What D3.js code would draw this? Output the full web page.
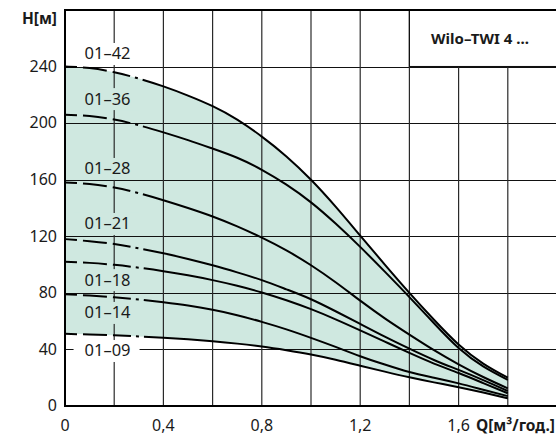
<!DOCTYPE html>
<html>
<head>
<meta charset="utf-8">
<script src="https://cdn.jsdelivr.net/npm/d3@7/dist/d3.min.js"></script>
<style>
  html, body { margin: 0; padding: 0; background: #fff; }
  svg { display: block; }
  text { font-family: "Noto Sans", "Open Sans", sans-serif; fill: #1a1a1a; }
</style>
</head>
<body>
<svg id="chart" width="556" height="438"></svg>
<script>
// ---- data ----
const flowQ = [0, 0.1, 0.2, 0.3, 0.4, 0.5, 0.6, 0.7, 0.8, 0.9, 1.0, 1.1, 1.2, 1.3, 1.4, 1.5, 1.6, 1.7, 1.8];
const head_01_42 = [240, 239, 236, 231.5, 226, 219.5, 212, 202.5, 190.5, 176.5, 160, 141, 120.5, 100, 80, 61, 43.5, 30, 20];
const head_01_36 = [206, 205, 202.5, 198.5, 193.5, 188, 182, 175.5, 167, 156.5, 144, 129, 112.5, 95, 77, 58.5, 41, 28, 18.5];
const head_01_28 = [158, 157, 154.5, 150.5, 145.5, 140, 134, 127, 119, 110, 99.5, 87.5, 74.5, 62, 50.5, 39.5, 29.5, 20.5, 12.5];
const head_01_21 = [118, 116.5, 114.5, 111.5, 108, 104, 99.5, 94.5, 89, 82.5, 75.5, 67, 58, 49, 40.5, 32.5, 25.5, 18.3, 10.6];
const head_01_18 = [102, 101.2, 99.8, 97.8, 95.3, 92.4, 89, 85, 80.3, 74.8, 68.5, 61.3, 53.5, 45.5, 37.5, 30, 23.3, 16.2, 9];
const head_01_14 = [79, 78.1, 76.9, 75.3, 73.3, 71, 68, 64.2, 59.5, 54.2, 48.2, 41.8, 35.2, 29.3, 24, 20, 16, 11.5, 7];
const head_01_09 = [51, 50.6, 50, 49.2, 48.3, 47.2, 45.8, 44.1, 42, 39.4, 36.4, 32.7, 28.5, 24.3, 20.3, 16.7, 13.3, 9.5, 5.4];

const seriesNames = ["01–42", "01–36", "01–28", "01–21", "01–18", "01–14", "01–09"];
const seriesHeads = [head_01_42, head_01_36, head_01_28, head_01_21, head_01_18, head_01_14, head_01_09];
// label anchor positions in data units (Q, H)
const labelQ = 0.173;
const labelH = [248.9, 217, 167.6, 128.7, 89, 65.8, 38.9];
const labelOnFill = [false, true, true, true, true, true, false];

const xTicks = [0, 0.4, 0.8, 1.2, 1.6];
const xTickLabels = ["0", "0,4", "0,8", "1,2", "1,6"];
const yTicks = [0, 40, 80, 120, 160, 200, 240];
const xGrid = [0.2, 0.4, 0.6, 0.8, 1.0, 1.2, 1.4, 1.6, 1.8];
const yGrid = [40, 80, 120, 160, 200, 240];
const title = "Wilo–TWI 4 ...";
const xTitle = "Q[м³/год.]";
const yTitle = "H[м]";

// ---- drawing ----
const FILL = "#cfe8e0";
const svg = d3.select("#chart");
const x = d3.scaleLinear().domain([0, 2]).range([65, 557]);
const y = d3.scaleLinear().domain([0, 280]).range([406, 10]);
const curve = d3.curveNatural;

// fill area between highest and lowest curve
const area = d3.area()
  .x((d, i) => x(flowQ[i]))
  .y0((d, i) => y(head_01_09[i]))
  .y1((d, i) => y(head_01_42[i]))
  .curve(curve);
svg.append("path").datum(flowQ).attr("d", area).attr("fill", FILL);

// grid
svg.append("g").selectAll("line").data(yGrid).join("line")
  .attr("x1", x(0)).attr("x2", x(2))
  .attr("y1", d => Math.round(y(d)) + 0.5).attr("y2", d => Math.round(y(d)) + 0.5)
  .attr("stroke", "#111").attr("stroke-width", 1);
svg.append("g").selectAll("line").data(xGrid).join("line")
  .attr("x1", d => x(d)).attr("x2", d => x(d))
  .attr("y1", y(280)).attr("y2", y(0))
  .attr("stroke", "#2a2a2a").attr("stroke-width", 1.2);

// title box
const bx = x(1.4);
svg.append("rect").attr("x", bx).attr("y", y(280)).attr("width", 560 - bx).attr("height", y(240) - y(280))
  .attr("fill", "#fff").attr("stroke", "#111").attr("stroke-width", 1.2);
svg.append("text").attr("x", 480).attr("y", (y(280) + y(240)) / 2 + 2)
  .attr("text-anchor", "middle").attr("dominant-baseline", "middle")
  .attr("font-size", 15).attr("font-weight", "bold").text(title);

// curves
const line = d3.line()
  .x((d, i) => x(flowQ[i]))
  .y(d => y(d))
  .curve(curve);
svg.append("g").selectAll("path").data(seriesHeads).join("path")
  .attr("d", d => line(d))
  .attr("fill", "none").attr("stroke", "#000").attr("stroke-width", 2)
  .attr("stroke-dasharray", "12,6,24,6,18,5,3,5,3000");

// series labels with background
const lg = svg.append("g");
seriesNames.forEach((name, i) => {
  const cx = x(labelQ), cy = y(labelH[i]);
  lg.append("rect").attr("x", cx - 34).attr("y", cy - 11).attr("width", 66).attr("height", 22)
    .attr("fill", labelOnFill[i] ? FILL : "#fff");
  lg.append("text").attr("x", cx).attr("y", cy + 1)
    .attr("text-anchor", "middle").attr("dominant-baseline", "middle")
    .attr("font-size", 16.5).text(name);
});

// axes frame
svg.append("line").attr("x1", x(0)).attr("x2", x(2)).attr("y1", y(280)).attr("y2", y(280))
  .attr("stroke", "#000").attr("stroke-width", 2);
svg.append("line").attr("x1", x(0)).attr("x2", x(0)).attr("y1", y(280) - 1).attr("y2", y(0) + 1)
  .attr("stroke", "#000").attr("stroke-width", 2);
svg.append("line").attr("x1", x(0) - 1).attr("x2", x(2)).attr("y1", y(0)).attr("y2", y(0))
  .attr("stroke", "#000").attr("stroke-width", 2);

// tick labels
svg.append("g").selectAll("text").data(yTicks).join("text")
  .attr("x", 57).attr("y", d => y(d) + 1)
  .attr("text-anchor", "end").attr("dominant-baseline", "middle")
  .attr("font-size", 16).text(d => d);
svg.append("g").selectAll("text").data(xTicks).join("text")
  .attr("x", d => x(d)).attr("y", 427)
  .attr("text-anchor", "middle").attr("dominant-baseline", "middle")
  .attr("font-size", 16).text((d, i) => xTickLabels[i]);

svg.append("text").attr("x", 57).attr("y", 20).attr("text-anchor", "end").attr("dominant-baseline", "middle")
  .attr("font-size", 15.5).attr("font-weight", "bold").text(yTitle);
svg.append("text").attr("x", 555).attr("y", 427).attr("text-anchor", "end").attr("dominant-baseline", "middle")
  .attr("font-size", 15.5).attr("font-weight", "bold").text(xTitle);
</script>
</body>
</html>
